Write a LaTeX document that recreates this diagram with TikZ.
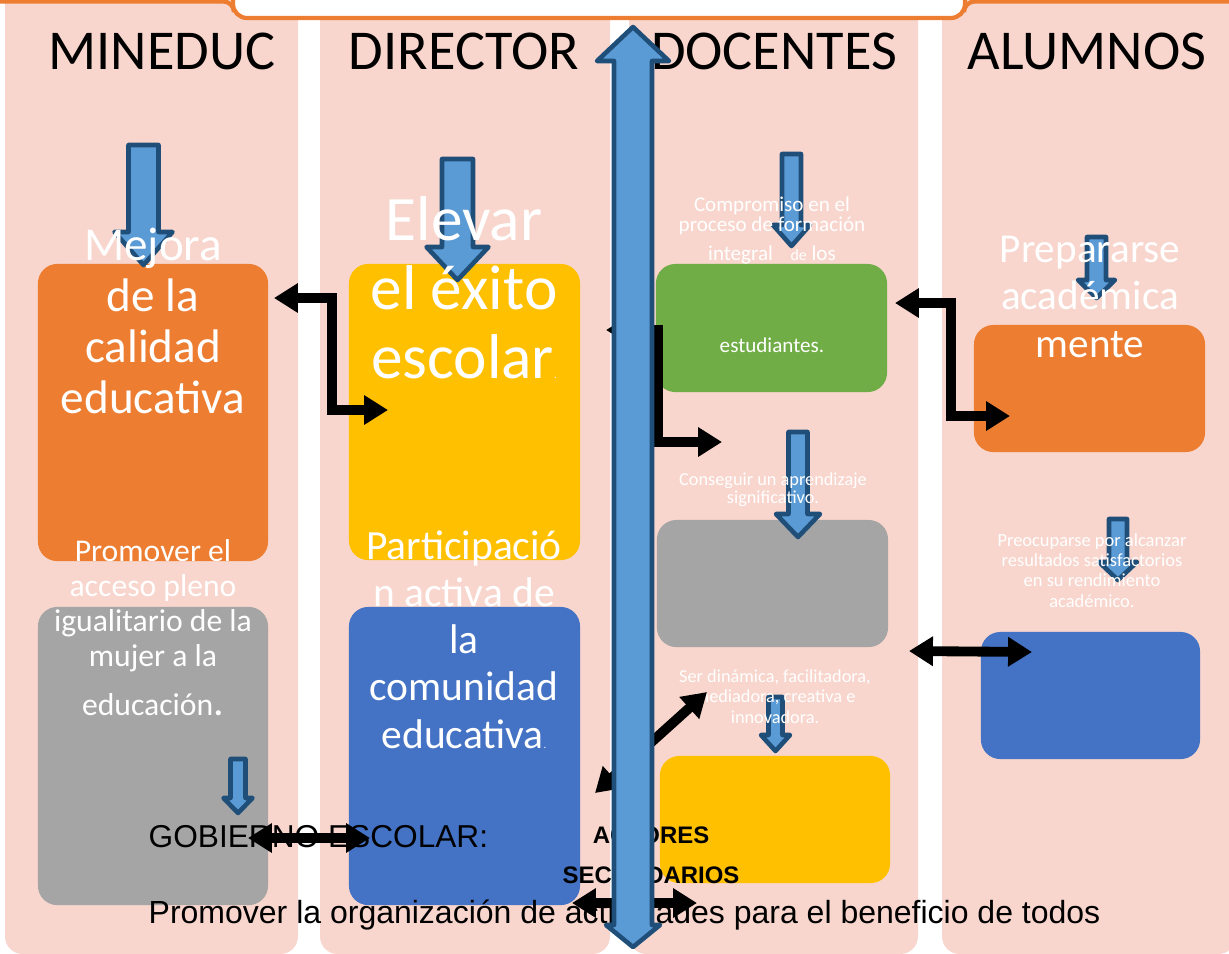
\documentclass[tikz,border=0pt]{standalone}
\usepackage{fontspec}
\setmainfont{Carlito}
\newfontfamily\arialfont{Liberation Sans}
\usetikzlibrary{arrows.meta}

\definecolor{bandpink}{HTML}{F8D6CD}
\definecolor{offorange}{HTML}{ED7D31}
\definecolor{offyellow}{HTML}{FFC000}
\definecolor{offgray}{HTML}{A5A5A5}
\definecolor{offblue}{HTML}{4472C4}
\definecolor{offgreen}{HTML}{70AD47}
\definecolor{arrowfill}{HTML}{5B9BD5}
\definecolor{arrowline}{HTML}{1F4E79}

\tikzset{
  box/.style={rounded corners=5.5pt, inner sep=0pt},
  bluearrow/.style={fill=arrowfill, draw=arrowline, line width=1.3pt, line join=round},
  blk/.style={draw=black, line width=2.8pt,
    arrows={Triangle[length=6.8pt,width=8pt]-Triangle[length=6.8pt,width=8pt]}},
  wtext/.style={text=white, align=center, inner sep=0pt, anchor=base},
  head/.style={inner sep=0pt, anchor=base, font=\fontsize{16}{19}\selectfont},
}

\newcommand{\blockdown}[6]{%
  \draw[bluearrow] ({#1-#3},#2) -- ({#1+#3},#2) -- ({#1+#3},#4) -- ({#1+#5},#4)
    -- (#1,#6) -- ({#1-#5},#4) -- ({#1-#3},#4) -- cycle;}

\begin{document}
\begin{tikzpicture}[x=0.01cm, y=-0.01cm]
		\useasboundingbox (0,0) rectangle (1229,953);

		% columns
		\foreach \xa/\xb in {5/298, 320/610, 629/918, 942/1236}
			\fill[bandpink, rounded corners=5pt] (\xa,-30) rectangle (\xb,954);

		% top frame
		\filldraw[fill=white, draw=offorange, line width=1.2pt, rounded corners=4pt]
			(233,-10) -- (233,18) -- (965,18) -- (965,-10);
		\draw[offorange, line width=1.2pt, rounded corners=3pt]
			(-5,1.5) -- (234,1.5) -- (234,12);
		\draw[offorange, line width=1.2pt, rounded corners=3pt]
			(964,12) -- (964,1.5) -- (1235,1.5);

		% boxes
		\node[box, fill=offorange, minimum width=2.30cm, minimum height=2.97cm] (mejora) at (153,412.5) {};
		\node[box, fill=offyellow, minimum width=2.31cm, minimum height=2.96cm] (exito) at (464.5,412) {};
		\node[box, fill=offgray, minimum width=2.30cm, minimum height=2.98cm] (acceso) at (153,756) {};
		\node[box, fill=offblue, minimum width=2.31cm, minimum height=2.98cm] (comunidad) at (464.5,756) {};
		\node[box, fill=offgreen, minimum width=2.31cm, minimum height=1.28cm] (formacion) at (771.5,328) {};
		\node[box, fill=offgray, minimum width=2.31cm, minimum height=1.27cm] (aprendizaje) at (772.5,583.5) {};
		\node[box, fill=offyellow, minimum width=2.30cm, minimum height=1.27cm] (dinamica) at (775,819.5) {};
		\node[box, fill=offorange, minimum width=2.31cm, minimum height=1.27cm] (academica) at (1089.5,388.5) {};
		\node[box, fill=offblue, minimum width=2.19cm, minimum height=1.27cm] (rendimiento) at (1090.5,695.5) {};

		% down arrows
		\blockdown{143.5}{145}{15}{232}{29}{265}
		\blockdown{457.5}{159}{15.5}{247}{31}{280}
		\blockdown{791.5}{154}{9.5}{225}{18.5}{246}
		\blockdown{798}{432}{9.5}{514}{22}{537}
		\blockdown{775.5}{697}{7}{735}{14.5}{751}
		\blockdown{1096.5}{237}{9.5}{280}{18.5}{298}
		\blockdown{1118}{519}{9}{562}{19}{580}
		\blockdown{238}{759}{7.5}{798}{14.5}{813}

		% headers
		\node[head] (mineduc) at (162,69) {MINEDUC};
		\node[head] (director) at (464,69) {DIRECTOR};
		\node[head] (docentes) at (774,69) {DOCENTES};
		\node[head] (alumnos) at (1087,69) {ALUMNOS};

		% texts
		\node[wtext, font=\fontsize{13.4}{14.5}\selectfont] (mejoratxt) at (153,413)
			{Mejora\\de la\\calidad\\educativa};
		\node[wtext, font=\fontsize{18}{19.6}\selectfont] (exitotxt) at (464,378)
			{Elevar\\el éxito\\escolar{\fontsize{3}{3}\selectfont .}};
		\node[wtext, font=\fontsize{9}{10}\selectfont] (accesotxt) at (153,715)
			{Promover el\\acceso pleno\\igualitario de la\\mujer a la\\[3.7pt]educación{\fontsize{12}{12}\selectfont .}};
		\node[wtext, font=\fontsize{11.8}{13.4}\selectfont] (comunidadtxt) at (464,748)
			{Participació\\n activa de\\la\\comunidad\\educativa{\fontsize{3}{3}\selectfont .}};
		\node[wtext, font=\fontsize{6}{5.7}\selectfont] (formaciontxt) at (772,260)
			{Compromiso en el\\proceso de formación\\[2.3pt]integral\hspace{5pt}{\fontsize{4.5}{5}\selectfont de} los};
		\node[wtext, font=\fontsize{6}{5.7}\selectfont] (estudiantes) at (772,352) {estudiantes.};
		\node[wtext, font=\fontsize{5.2}{5.1}\selectfont] (aprendizajetxt) at (773,503)
			{Conseguir un aprendizaje\\significativo.};
		\node[wtext, font=\fontsize{5.2}{5.7}\selectfont] (dinamicatxt) at (775,723)
			{Ser dinámica, facilitadora,\\mediadora, creativa e\\innovadora.};
		\node[wtext, font=\fontsize{11.7}{13.4}\selectfont] (academicatxt) at (1090,357)
			{Prepararse\\académica\\mente};
		\node[wtext, font=\fontsize{5.25}{5.7}\selectfont] (rendimientotxt) at (1092,607)
			{Preocuparse por alcanzar\\resultados satisfactorios\\en su rendimiento\\académico.};

		\node[inner sep=0pt, anchor=base west, font=\arialfont\fontsize{9}{11}\selectfont] (gobierno) at (148,847) {GOBIERNO ESCOLAR:};
		\node[inner sep=0pt, anchor=base, font=\arialfont\bfseries\fontsize{6.8}{8}\selectfont] (actores) at (651,843) {ACTORES};
		\node[inner sep=0pt, anchor=base, font=\arialfont\bfseries\fontsize{6.8}{8}\selectfont] (secundarios) at (651,883) {SECUNDARIOS};
		\node[inner sep=0pt, anchor=base west, font=\arialfont\fontsize{9.1}{11}\selectfont] (beneficio) at (148,923)
			{Promover la organización de actividades para el beneficio de todos};

		% black connectors
		\coordinate (mejoraIn) at (274,298);
		\coordinate (exitoIn) at (388,410);
		\coordinate (ejeIn) at (606,330);
		\coordinate (formacionIn) at (722,442);
		\coordinate (formacionOut) at (895,303);
		\coordinate (academicaIn) at (1010,416);
		\coordinate (aprendizajeOut) at (909,651);
		\coordinate (rendimientoIn) at (1032,652);
		\coordinate (comunidadOut) at (595,793);
		\coordinate (dinamicaIn) at (707,692);
		\coordinate (accesoOut) at (248,838);
		\coordinate (comunidadIn) at (370,838);
		\coordinate (bajoIzq) at (572,903);
		\coordinate (bajoDer) at (697,903);

		\draw[blk] (mejoraIn) -- (332,298) -- (332,410) -- (exitoIn);
		\draw[blk] (ejeIn) -- (658,330) -- (658,442) -- (formacionIn);
		\draw[blk] (formacionOut) -- (951,303) -- (951,416) -- (academicaIn);
		\draw[blk] (aprendizajeOut) -- (rendimientoIn);
		\draw[blk] (comunidadOut) -- (dinamicaIn);
		\draw[blk] (accesoOut) -- (comunidadIn);
		\draw[blk] (bajoIzq) -- (bajoDer);

		% central axis
		\draw[bluearrow] (633,27) -- (669,61) -- (652,61) -- (652,925) -- (660,925)
			-- (633,947) -- (606,925) -- (614,925) -- (614,61) -- (597,61) -- cycle;
\end{tikzpicture}
\end{document}
